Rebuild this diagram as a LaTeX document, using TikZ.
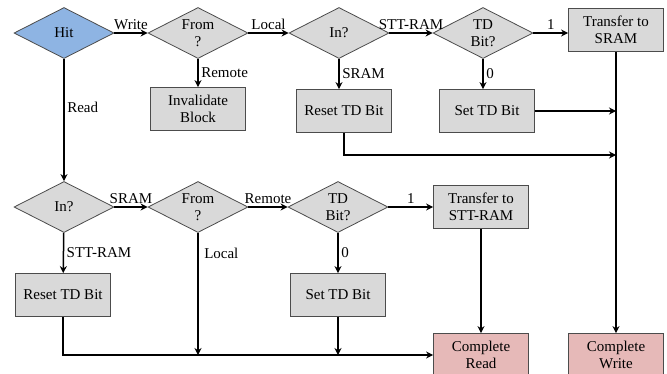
\documentclass[tikz,border=0pt]{standalone}
\usepackage{fontspec}
\setmainfont{Liberation Serif}
\usetikzlibrary{shapes.geometric,arrows.meta}

\definecolor{hitblue}{RGB}{142,180,227}
\definecolor{donepink}{RGB}{230,185,184}

\begin{document}
\begin{tikzpicture}[x=1pt,y=-1pt,
    every node/.style={font=\fontsize{15}{17.5}\selectfont},
    decide/.style={diamond,draw=black!70,fill=black!15,line width=0.8pt,aspect=2,
      inner sep=0pt,minimum width=100pt,minimum height=51pt,align=center},
    hitbox/.style={decide,fill=hitblue},
    act/.style={rectangle,draw=black!70,fill=black!15,line width=0.8pt,
      minimum width=95pt,minimum height=43pt,inner sep=2pt,align=center},
    done/.style={act,fill=donepink},
    flow/.style={line width=1.5pt,-{Stealth[length=7pt,width=7pt]}},
    lbl/.style={inner sep=2.5pt}]
      \useasboundingbox (0,0) rectangle (667,373);
      \clip (0,0) rectangle (667,373);

      %%%%%%%%%%%%%%%%%%%%%%%%%%%%%%%%%%%%%%%%%%%%%%%%%%%%%%%%%%%%%%%%%%%%%%%%%%%
      %%%%  Write path
      \node[hitbox] (hit) at (64,33) {Hit};
      \node[decide] (fromw) at (198,33) {From\\?};
      \node[decide] (inw) at (339,33) {In?};
      \node[decide] (tdw) at (483,33) {TD\\Bit?};
      \node[act] (tosram) at (616,30) {Transfer to\\SRAM};
      \node[act] (inval) at (198,109) {Invalidate\\Block};
      \node[act] (resetw) at (344,111) {Reset TD Bit};
      \node[act] (setw) at (487,111) {Set TD Bit};

      %%%%%%%%%%%%%%%%%%%%%%%%%%%%%%%%%%%%%%%%%%%%%%%%%%%%%%%%%%%%%%%%%%%%%%%%%%%
      %%%%  Read path
      \node[decide] (inr) at (64,207) {In?};
      \node[decide] (fromr) at (198,207) {From\\?};
      \node[decide] (tdr) at (338,207) {TD\\Bit?};
      \node[act] (tostt) at (481,207) {Transfer to\\STT-RAM};
      \node[act] (resetr) at (63,295) {Reset TD Bit};
      \node[act] (setr) at (338,295) {Set TD Bit};

      \node[done] (cread) at (481,355) {Complete\\Read};
      \node[done] (cwrite) at (616,355) {Complete\\Write};

      %%%%%%%%%%%%%%%%%%%%%%%%%%%%%%%%%%%%%%%%%%%%%%%%%%%%%%%%%%%%%%%%%%%%%%%%%%%
      %%%%  Arrows, write
      \draw[flow] (hit) -- node[lbl,above] {Write} (fromw);
      \draw[flow] (hit) -- node[lbl,right,pos=0.4] {Read} (inr);
      \draw[flow] (fromw) -- node[lbl,above] {Local} (inw);
      \draw[flow] (fromw) -- node[lbl,right] {Remote} (inval);
      \draw[flow] (inw) -- node[lbl,above] {STT-RAM} (tdw);
      \draw[flow] (inw.south) -- node[lbl,right] {SRAM} (inw.south |- resetw.north);
      \draw[flow] (tdw) -- node[lbl,above] {1} (tosram.west |- tdw);
      \draw[flow] (tdw) -- node[lbl,right] {0} (tdw.south |- setw.north);
      \draw[flow] (tosram) -- (cwrite);
      \draw[flow] (setw.east) -- (setw.east -| tosram.south);
      \coordinate (joinw) at (616,155);
      \draw[flow] (resetw.south) |- (joinw);

      %%%%%%%%%%%%%%%%%%%%%%%%%%%%%%%%%%%%%%%%%%%%%%%%%%%%%%%%%%%%%%%%%%%%%%%%%%%
      %%%%  Arrows, read
      \draw[flow] (inr) -- node[lbl,above] {SRAM} (fromr);
      \draw[flow] (inr) -- node[lbl,right] {STT-RAM} (resetr);
      \draw[flow] (fromr) -- node[lbl,above] {Remote} (tdr);
      \draw[flow] (fromr.south) -- node[lbl,right,pos=0.17,xshift=3pt] {Local} (fromr.south |- cread.west);
      \draw[flow] (tdr) -- node[lbl,above] {1} (tostt.west |- tdr);
      \draw[flow] (tdr) -- node[lbl,right] {0} (setr);
      \draw[flow] (setr.south) -- (setr.south |- cread.west);
      \draw[flow] (resetr.south) |- (cread.west);
      \draw[flow] (tostt) -- (cread);
    \end{tikzpicture}
\end{document}
